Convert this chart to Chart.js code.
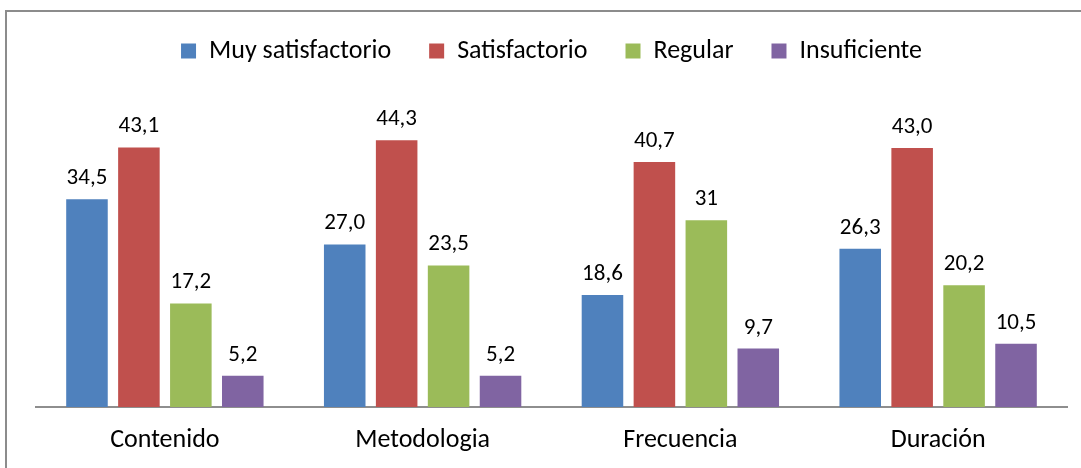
<!DOCTYPE html>
<html>
<head>
<meta charset="utf-8">
<script src="https://cdn.jsdelivr.net/npm/chart.js@4.4.0/dist/chart.umd.min.js"></script>
<style>
  html, body { margin: 0; padding: 0; background: #fff; overflow: hidden; }
  #frame { position: absolute; left: 5px; top: 10px; width: 1200px; height: 600px;
           border-left: 2px solid #8c8c8c; border-top: 2px solid #8c8c8c; }
  #wrap { position: absolute; left: 0; top: 0; width: 1081px; height: 468px; }
</style>
</head>
<body>
<div id="frame"></div>
<div id="wrap"><canvas id="myChart" width="1081" height="468"></canvas></div>
<script>
const categories = ["Contenido", "Metodologia", "Frecuencia", "Duración"];

const muySatisfactorio = [34.5, 27.0, 18.6, 26.3];
const satisfactorio = [43.1, 44.3, 40.7, 43.0];
const regular = [17.2, 23.5, 31, 20.2];
const insuficiente = [5.2, 5.2, 9.7, 10.5];

// value labels as printed on the chart
const muyText = ["34,5", "27,0", "18,6", "26,3"];
const satText = ["43,1", "44,3", "40,7", "43,0"];
const regText = ["17,2", "23,5", "31", "20,2"];
const insText = ["5,2", "5,2", "9,7", "10,5"];

const FONT = "Carlito, Calibri, Lato, sans-serif";

const valueLabels = {
  id: "valueLabels",
  afterDatasetsDraw(chart) {
    const ctx = chart.ctx;
    ctx.save();
    ctx.font = "23px " + FONT;
    ctx.fillStyle = "#000";
    ctx.textAlign = "center";
    ctx.textBaseline = "alphabetic";
    chart.data.datasets.forEach((ds, i) => {
      const meta = chart.getDatasetMeta(i);
      meta.data.forEach((bar, j) => {
        ctx.fillText(ds.texts[j], bar.x, bar.y - 15);
      });
    });
    ctx.restore();
  }
};

const ctx = document.getElementById("myChart").getContext("2d");
new Chart(ctx, {
  type: "bar",
  data: {
    labels: categories,
    datasets: [
      { label: "Muy satisfactorio", data: muySatisfactorio, texts: muyText, backgroundColor: "#4f81bd" },
      { label: "Satisfactorio", data: satisfactorio, texts: satText, backgroundColor: "#c0504d" },
      { label: "Regular", data: regular, texts: regText, backgroundColor: "#9bbb59" },
      { label: "Insuficiente", data: insuficiente, texts: insText, backgroundColor: "#8064a2" },
    ],
  },
  options: {
    responsive: false,
    animation: false,
    devicePixelRatio: 1,
    categoryPercentage: 0.806,
    barPercentage: 0.8,
    layout: { padding: { left: 36, right: 14, top: 0, bottom: 0 } },
    plugins: {
      legend: {
        position: "top",
        labels: {
          font: { family: FONT, size: 26 },
          color: "#000",
          boxWidth: 15,
          boxHeight: 15,
          padding: 38,
        },
      },
      tooltip: { enabled: false },
    },
    scales: {
      x: {
        grid: { display: false },
        border: { display: true, color: "#8e8e8e", width: 2 },
        ticks: { font: { family: FONT, size: 26 }, color: "#000", padding: 10 },
        afterFit(scale) { scale.height = 61; },
      },
      y: {
        display: false,
        min: 0,
        max: 55.3,
      },
    },
  },
  plugins: [valueLabels],
});
</script>
</body>
</html>
